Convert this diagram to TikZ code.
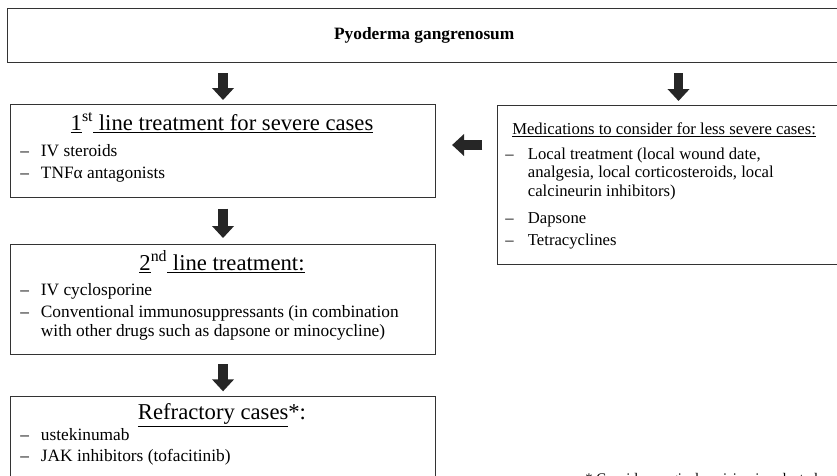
\documentclass[tikz,border=0pt]{standalone}
\usepackage{fontspec}
\setmainfont{Liberation Serif}
\usetikzlibrary{arrows.meta,positioning}

\tikzset{
  panel/.style={draw=black!80,line width=0.8pt,inner sep=0pt,anchor=north west},
  heading/.style={font=\fontsize{17}{20}\selectfont,inner sep=0pt,anchor=base},
  entries/.style={font=\fontsize{13}{14.5}\selectfont,inner sep=0pt,anchor=base west},
  blockarrow/.style={draw=black!85,line width=7pt,-{Triangle[length=9pt,width=16pt]}},
}

\begin{document}
\begin{tikzpicture}[x={(0.75pt,0)},y={(0,-0.75pt)}]
  \useasboundingbox (0,0) rectangle (837,475);
  % Boxes
  \node[panel,minimum width=625pt,minimum height=40.5pt,font=\fontsize{13}{15}\selectfont\bfseries] (pg) at (7,8) {Pyoderma gangrenosum};
  \node[panel,minimum width=318.75pt,minimum height=69.75pt] (first) at (10,104) {};
  \node[panel,minimum width=271.5pt,minimum height=119.25pt] (mild) at (497,105) {};
  \node[panel,minimum width=318.75pt,minimum height=82.5pt] (second) at (10,244) {};
  \node[panel,minimum width=318.75pt,minimum height=70pt] (refr) at (10,396) {};
  % Headings
  \node[heading] (firsttitle) at (222,130) {\underline{1}\textsuperscript{st}\underline{ line treatment for severe cases}};
  \node[heading,font=\fontsize{12.5}{14}\selectfont,anchor=base west] (mildtitle) at (512,134) {\underline{Medications to consider for less severe cases:}};
  \node[heading] (secondtitle) at (222,270) {\underline{2}\textsuperscript{nd}\underline{ line treatment:}};
  \node[heading] (refrtitle) at (222,419) {\underline{Refractory cases}*:};
  % Item lists
  \node[entries] (firstlist) at (20,156) {\begin{tabular}[t]{@{}p{15.5pt}@{}l@{}}
    – & IV steroids\\[2pt]
    – & TNFα antagonists
  \end{tabular}};
  \node[entries,font=\fontsize{12.5}{14}\selectfont] (mildlist) at (505,159) {\begin{tabular}[t]{@{}p{17pt}@{}l@{}}
    – & Local treatment (local wound date,\\
      & analgesia, local corticosteroids, local\\
      & calcineurin inhibitors)\\[6pt]
    – & Dapsone\\[2.5pt]
    – & Tetracyclines
  \end{tabular}};
  \node[entries] (secondlist) at (20,295) {\begin{tabular}[t]{@{}p{15.5pt}@{}l@{}}
    – & IV cyclosporine\\[2pt]
    – & Conventional immunosuppressants (in combination\\
      & with other drugs such as dapsone or minocycline)
  \end{tabular}};
  \node[entries] (refrlist) at (20,440) {\begin{tabular}[t]{@{}p{15.5pt}@{}l@{}}
    – & ustekinumab\\[1.5pt]
    – & JAK inhibitors (tofacitinib)
  \end{tabular}};
  \node[entries,font=\fontsize{11}{13}\selectfont] (note) at (585,483) {* Consider surgical excision in selected cases};
  % Arrows
  \coordinate (lvl) at (0,145);
  \draw[blockarrow,shorten <=7.5pt,shorten >=3pt] (first.north |- pg.south) -- (first.north);
  \draw[blockarrow,shorten <=7.5pt,shorten >=3pt] (mild.north |- pg.south) -- (mild.north);
  \draw[blockarrow,shorten <=11pt,shorten >=12pt] (mild.west |- lvl) -- (first.east |- lvl);
  \draw[blockarrow,shorten <=8pt,shorten >=4.5pt] (first.south) -- (second.north);
  \draw[blockarrow,shorten <=7pt,shorten >=3.5pt] (second.south) -- (refr.north);
\end{tikzpicture}
\end{document}
